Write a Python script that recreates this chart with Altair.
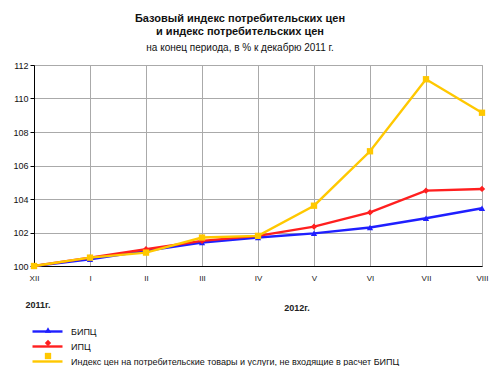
import altair as alt
import pandas as pd

months = ["XII", "I", "II", "III", "IV", "V", "VI", "VII", "VIII"]
series_names = [
    "БИПЦ",
    "ИПЦ",
    "Индекс цен на потребительские товары и услуги, не входящие в расчет БИПЦ",
]
bipc = [100.0, 100.4, 100.9, 101.4, 101.7, 101.95, 102.3, 102.85, 103.45]
ipc = [100.0, 100.5, 101.0, 101.5, 101.8, 102.35, 103.2, 104.5, 104.6]
other = [100.0, 100.5, 100.8, 101.7, 101.8, 103.6, 106.85, 111.15, 109.15]
colors = ["#1f1fff", "#ff1f1f", "#ffc800"]
shapes = ["triangle-up", "diamond", "square"]
year_labels = ["2011г.", "2012г."]

rows = []
for name, vals in zip(series_names, [bipc, ipc, other]):
    for m, v in zip(months, vals):
        rows.append({"month": m, "value": v, "series": name, "series2": name})
df = pd.DataFrame(rows)

font = "Liberation Sans"

x_enc = alt.X(
    "month:N",
    sort=months,
    scale=alt.Scale(type="point", padding=0),
    axis=alt.Axis(
        title=None, labelAngle=0, labelFontSize=8, labelColor="#222",
        ticks=False, labelPadding=8, grid=True, gridColor="#aaa",
        domainColor="#000", labelFont=font,
    ),
)
y_enc = alt.Y(
    "value:Q",
    scale=alt.Scale(domain=[100, 112], nice=False, zero=False),
    axis=alt.Axis(
        title=None, values=[100, 102, 104, 106, 108, 110, 112],
        labelFontSize=9, labelColor="#111", grid=True, gridColor="#aaa",
        domainColor="#000", tickColor="#000", tickSize=4, labelFont=font,
    ),
)

line_legend = alt.Legend(
    title=None, orient="none", legendX=7, legendY=260,
    symbolType="M-3,0L3,0", symbolStrokeWidth=2.4, symbolSize=100,
    labelFontSize=9, labelFont=font, labelColor="#111",
    rowPadding=3, labelLimit=500, symbolOffset=0, padding=0, labelOffset=17,
)
point_legend = alt.Legend(
    title=None, orient="none", legendX=9, legendY=260,
    symbolSize=40, labelFontSize=10, labelFont=font, labelExpr="''",
    rowPadding=3, labelLimit=500, symbolOffset=0, padding=0, labelOffset=0,
)

lines = alt.Chart(df).mark_line(strokeWidth=2.4).encode(
    x=x_enc,
    y=y_enc,
    color=alt.Color(
        "series:N",
        scale=alt.Scale(domain=series_names, range=colors),
        sort=series_names,
        legend=line_legend,
    ),
)

points = alt.Chart(df).mark_point(filled=True, size=40, opacity=1).encode(
    x=x_enc,
    y=y_enc,
    color=alt.Color(
        "series2:N",
        scale=alt.Scale(domain=series_names, range=colors),
        sort=series_names,
        legend=point_legend,
    ),
    shape=alt.Shape(
        "series2:N",
        scale=alt.Scale(domain=series_names, range=shapes),
        sort=series_names,
        legend=point_legend,
    ),
)

ann = pd.DataFrame({"t": year_labels, "px": [4, 263], "py": [240, 243]})
years = alt.Chart(ann).mark_text(
    fontSize=9, fontWeight="bold", font=font, color="#222", align="center"
).encode(
    x=alt.X("px:Q", scale=None),
    y=alt.Y("py:Q", scale=None),
    text="t:N",
)

chart = alt.layer(lines, points, years).resolve_scale(
    color="independent", shape="independent"
).properties(
    width=448,
    height=201,
    autosize=alt.AutoSizeParams(type="none"),
    padding={"left": 26, "top": 57, "right": 10, "bottom": 100},
    title=alt.TitleParams(
        text=["Базовый индекс потребительских цен", "и индекс потребительских цен"],
        subtitle="на конец периода, в % к декабрю 2011 г.",
        fontSize=11, fontWeight="bold", font=font, color="#111",
        subtitleFontSize=10, subtitleFont=font, subtitleColor="#111",
        anchor="middle", dx=-18, offset=8, lineHeight=13, subtitlePadding=6,
    ),
).configure_view(stroke="#aaa")

chart.save("out.html", embed_options={"renderer": "svg", "actions": False})
